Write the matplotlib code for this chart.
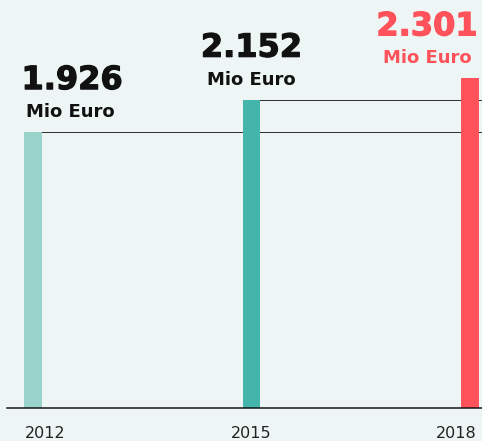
import matplotlib.pyplot as plt
import matplotlib.patheffects as pe

# Data
years = ['2012', '2015', '2018']
values = [1926, 2152, 2301]
value_labels = ['1.926', '2.152', '2.301']
unit = 'Mio Euro'

bar_colors = ['#9AD3CC', '#44B5AB', '#FF525B']
label_colors = ['#111111', '#111111', '#FF525B']
bg = '#EDF6F4'

plt.rcParams['font.family'] = ['DejaVu Sans']

fig = plt.figure(figsize=(482 / 72, 441 / 72), dpi=72, facecolor=bg)
ax = fig.add_axes([0, 0, 1, 1])
ax.set_facecolor(bg)

pos = list(range(len(values)))
width = 0.078
ax.bar(pos, values, width=width, color=bar_colors, zorder=2)

ax.set_xlim(-0.151, 2.055)
ax.set_ylim(-230, 2848)

# reference lines from each earlier bar top to the right edge
for i in range(len(values) - 1):
    ax.hlines(values[i], pos[i] - width / 2, 2.055, color='#333333', lw=1, zorder=1)

# baseline
ax.axhline(0, xmin=0.0145, xmax=1, color='#111111', lw=1.5, zorder=3)

aligns = ['left', 'center', 'right']
anchors = [pos[0] - width / 2, pos[1], pos[2] + width / 2]
num_dx = [-3, 0, -1]
unit_dx = [2, 0, -7]
tick_dx = [0, 0, -2]
for i, v in enumerate(values):
    t = ax.annotate(value_labels[i], (anchors[i], v), xytext=(num_dx[i], 43),
                    textcoords='offset points', ha=aligns[i], va='baseline',
                    fontsize=32, fontweight='bold', color=label_colors[i])
    # thicken the figures a little, the original face is heavier
    t.set_path_effects([pe.withStroke(linewidth=1.2, foreground=label_colors[i])])
    ax.annotate(unit, (anchors[i], v), xytext=(unit_dx[i], 15),
                textcoords='offset points', ha=aligns[i], va='baseline',
                fontsize=18, fontweight='bold', color=label_colors[i])
    ax.annotate(years[i], (anchors[i], 0), xytext=(tick_dx[i], -30),
                textcoords='offset points', ha=aligns[i], va='baseline',
                fontsize=16, color='#222222')

ax.axis('off')
fig.savefig('out.png', dpi=72, facecolor=bg)
